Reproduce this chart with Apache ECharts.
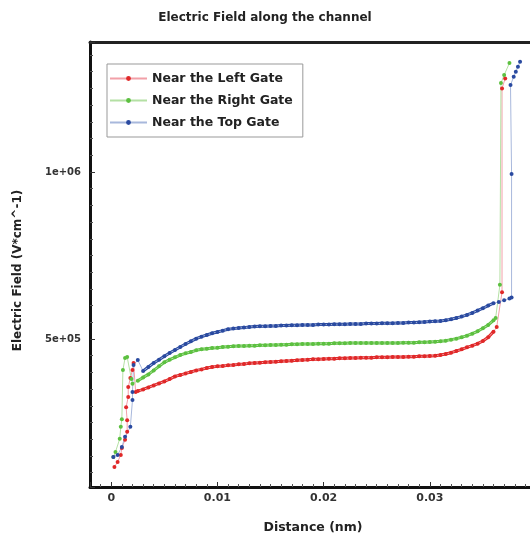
<!DOCTYPE html>
<html>
<head>
<meta charset="utf-8">
<script src="https://cdn.jsdelivr.net/npm/echarts@6/dist/echarts.min.js"></script>
<style>html,body{margin:0;padding:0;background:#fff;overflow:hidden}#c{width:530px;height:539px}</style>
</head>
<body>
<div id="c"></div>
<script>
// Field values are in units of 1e3 V/cm
const smoothDistance = [0.0025,0.003,0.0035,0.004,0.0045,0.005,0.0055,0.006,0.0065,0.007,
0.0075,0.008,0.0085,0.009,0.0095,0.01,0.0105,0.011,0.0115,0.012,
0.0125,0.013,0.0135,0.014,0.0145,0.015,0.0155,0.016,0.0165,0.017,
0.0175,0.018,0.0185,0.019,0.0195,0.02,0.0205,0.021,0.0215,0.022,
0.0225,0.023,0.0235,0.024,0.0245,0.025,0.0255,0.026,0.0265,0.027,
0.0275,0.028,0.0285,0.029,0.0295,0.03,0.0305,0.031,0.0315,0.032,
0.0325,0.033,0.0335,0.034,0.0345,0.035,0.0355,0.036];

const leftHeadDistance = [0.0003,0.0006,0.0009,0.001,0.0013,0.0015,0.0015,0.0014,0.0016,0.0016,0.0018,0.002,0.0021,0.0023];
const leftHeadField = [117,132,153,174,198,222,257,296,326,356,383,407,428,341];
const leftSmoothField = [344,349,355,361,367,373,380,388,392,397,
401,406,409,413,416,418,419,421,422,424,
425,427,428,429,430,431,432,433,434,435,
436,437,438,439,439,440,441,441,442,442,
443,443,444,444,444,445,445,445,446,446,
446,447,447,448,448,449,450,452,455,459,
464,469,475,480,486,494,505,522];
const leftTailDistance = [0.0363,0.0368,0.0368,0.0371];
const leftTailField = [536,640,1250,1280];

const rightHeadDistance = [0.0002,0.0004,0.0008,0.0009,0.001,0.0011,0.0013,0.0015,0.0019,0.002];
const rightHeadField = [147,162,201,237,260,407,443,446,380,366];
const rightSmoothField = [375,385,394,406,418,430,438,445,452,457,
461,466,469,471,473,474,476,477,478,479,
479,480,480,481,481,482,482,483,483,484,
484,485,485,485,486,486,486,487,487,487,
488,488,488,488,488,488,488,488,488,488,
489,489,489,490,490,491,492,493,495,498,
501,505,510,516,523,532,542,556];
const rightTailDistance = [0.0362,0.0366,0.0367,0.037,0.0375];
const rightTailField = [563,662,1266,1290,1326];

const topHeadDistance = [0.0002,0.0006,0.001,0.0013,0.0018,0.002,0.002,0.0021];
const topHeadField = [147,153,177,207,237,317,341,422];
const topSmoothField = [437,404,416,428,438,448,458,467,476,485,
493,501,507,512,517,521,525,529,531,533,
534,536,537,538,538,539,539,540,540,541,
541,542,542,542,543,543,543,544,544,544,
545,545,545,546,546,546,547,547,547,548,
548,549,549,550,551,552,553,554,556,559,
563,567,572,578,585,592,600,607];
const topTailDistance = [0.0365,0.037,0.0375,0.0377,0.0377,0.0376,0.0379,0.0381,0.0383,0.0385];
const topTailField = [611,616,621,624,994,1260,1285,1300,1315,1330];

const seriesNames = ['Near the Left Gate','Near the Right Gate','Near the Top Gate'];
const yTickLabels = {500000:'5e+05', 1000000:'1e+06'};

function pairs(ds, fs) { return ds.map((d,i)=>[d, fs[i]*1000]); }
function build(hd, hf, sf, td, tf) {
  return pairs(hd, hf).concat(pairs(smoothDistance, sf), pairs(td, tf));
}

const FONT = 'DejaVu Sans';
const chart = echarts.init(document.getElementById('c'));
function mk(name, data, dark, light) {
  return {
    name, type:'line', data, symbol:'circle', symbolSize:4, z:3,
    showSymbol:true, showAllSymbol:true, animation:false,
    itemStyle:{color:dark, borderWidth:0},
    lineStyle:{color:light, width:1}
  };
}
function band(name, data, dark) {
  return {
    name, type:'line', data, symbol:'none', z:2, animation:false,
    itemStyle:{color:dark}, lineStyle:{color:dark, width:3}
  };
}
const leftData = build(leftHeadDistance,leftHeadField,leftSmoothField,leftTailDistance,leftTailField);
const rightData = build(rightHeadDistance,rightHeadField,rightSmoothField,rightTailDistance,rightTailField);
const topData = build(topHeadDistance,topHeadField,topSmoothField,topTailDistance,topTailField);

const xCommon = {type:'value', min:-0.002, max:0.04, splitNumber:4, splitLine:{show:false}};
chart.setOption({
  animation:false,
  title:{text:'Electric Field along the channel', left:'center', top:7,
    textStyle:{fontFamily:FONT, fontSize:12, fontWeight:'bold', color:'#222'}},
  legend:{orient:'vertical', left:107, top:64, padding:[8,10,8,2],
    borderColor:'#999', borderWidth:1, itemWidth:37, itemHeight:6, itemGap:9,
    textStyle:{fontFamily:FONT, fontSize:12.5, fontWeight:'bold', color:'#222'},
    data:seriesNames},
  grid:{left:90, top:42, width:446, height:445, show:false,
    outerBoundsMode:'none', containLabel:false},
  xAxis:[Object.assign({}, xCommon, {
    name:'Distance (nm)', nameLocation:'middle', nameGap:34,
    nameTextStyle:{fontFamily:FONT, fontSize:12.5, fontWeight:'bold', color:'#222'},
    axisLine:{onZero:false, lineStyle:{color:'#111', width:3}},
    axisTick:{inside:true, length:5, lineStyle:{color:'#333'}},
    minorTick:{show:true, splitNumber:10, length:3, lineStyle:{color:'#555'}},
    axisLabel:{showMinLabel:false, showMaxLabel:false, margin:6,
      fontFamily:FONT, fontSize:11, fontWeight:'bold', color:'#333'}}),
    Object.assign({}, xCommon, {position:'top',
    axisLine:{onZero:false, lineStyle:{color:'#222', width:3}},
    axisTick:{show:false}, axisLabel:{show:false}})],
  yAxis:{type:'value', min:56900, max:1389000, splitNumber:3,
    name:'Electric Field (V*cm^-1)', nameLocation:'middle', nameGap:66,
    nameTextStyle:{fontFamily:FONT, fontSize:12, fontWeight:'bold', color:'#222', padding:[0,12,0,0]},
    axisLine:{onZero:false, lineStyle:{color:'#111', width:3}},
    axisTick:{inside:true, length:5, lineStyle:{color:'#333'}},
    minorTick:{show:true, splitNumber:10, length:3, lineStyle:{color:'#555'}},
    axisLabel:{showMinLabel:false, showMaxLabel:false, margin:9,
      fontFamily:FONT, fontSize:10, fontWeight:'bold', color:'#333',
      formatter:v=>yTickLabels[v] || ''},
    splitLine:{show:false}},
  series:[
    mk(seriesNames[0], leftData, '#e02828', '#f2a0a8'),
    mk(seriesNames[1], rightData, '#5cc040', '#b4e0a4'),
    mk(seriesNames[2], topData, '#2a4aa0', '#a8b8dc'),
    band(seriesNames[0], pairs(smoothDistance, leftSmoothField), '#e02828'),
    band(seriesNames[1], pairs(smoothDistance, rightSmoothField), '#5cc040'),
    band(seriesNames[2], pairs(smoothDistance.slice(1), topSmoothField.slice(1)), '#2a4aa0')
  ]
});
</script>
</body>
</html>
